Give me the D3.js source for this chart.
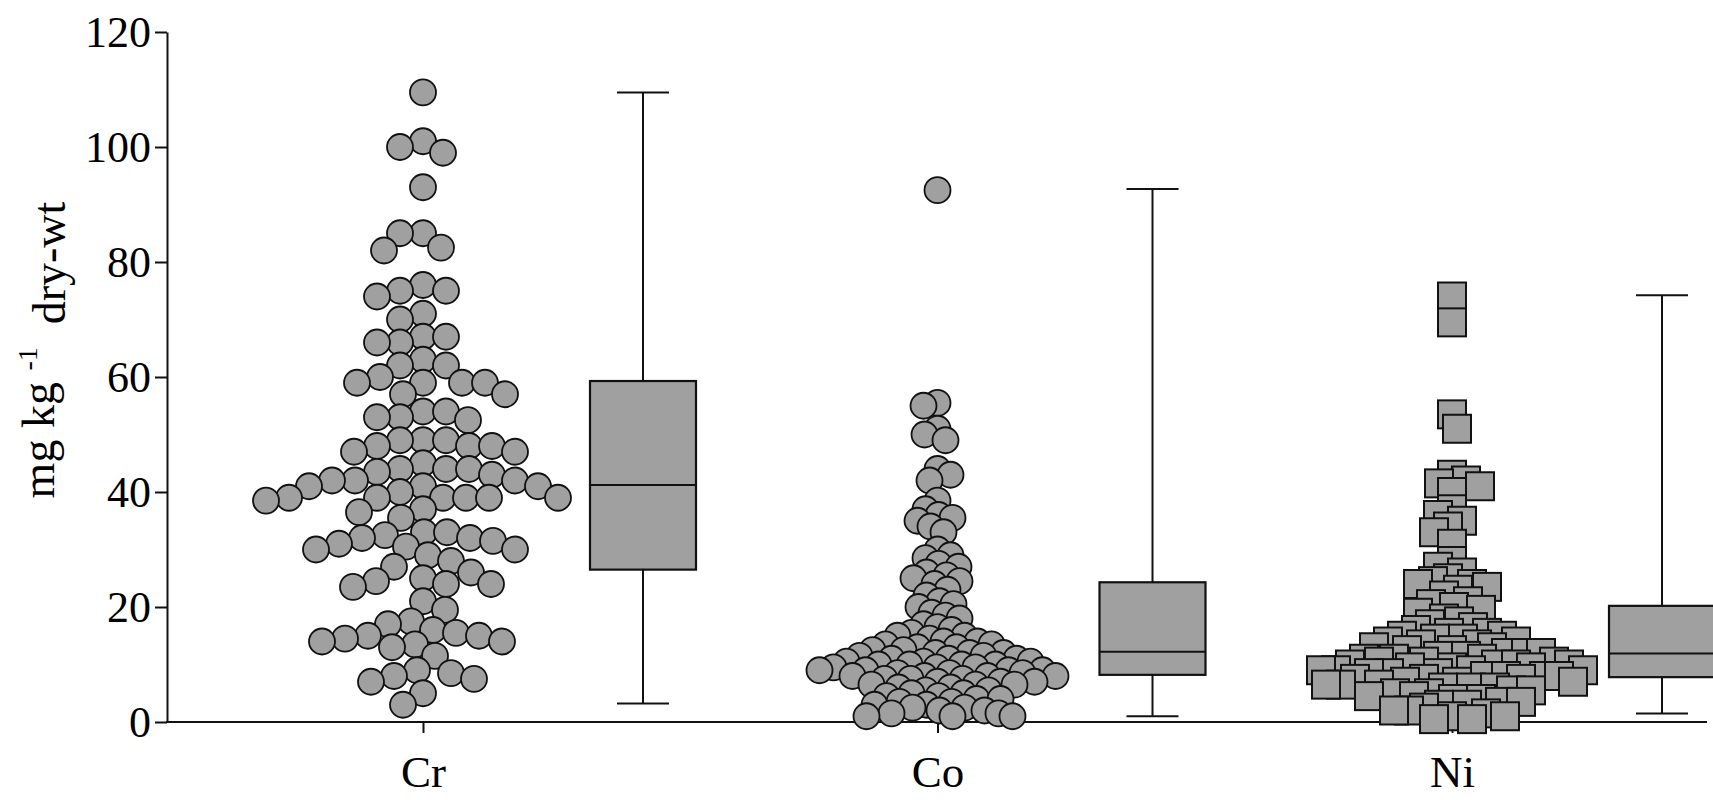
<!DOCTYPE html>
<html>
<head>
<meta charset="utf-8">
<script src="https://cdn.jsdelivr.net/npm/d3@7"></script>
<style>
  body { margin: 0; background: #fff; }
  text { font-family: "Liberation Serif", "DejaVu Serif", serif; fill: #000; }
</style>
</head>
<body>
<svg id="chart" width="1713" height="800"></svg>
<script>
'use strict';

var categories = ["Cr", "Co", "Ni"];

// individual sample values
var crValues = [109.5, 101, 100, 99, 93, 85, 85, 82.5, 82, 76, 75, 75, 74, 71, 70, 67, 67, 66, 66,
    63, 62, 62, 60, 59, 59, 59, 59, 57, 57, 54, 54, 53, 53, 52.5,
    49, 49, 49, 48, 48, 48, 47, 47, 45, 44, 44, 44,
    43.5, 43, 42, 42, 42, 41, 41, 41, 40, 39, 39, 39, 39, 39, 39, 38.5,
    37, 36.5, 35.5, 33, 33, 32.5, 32, 32, 31.5, 31, 30.5, 30, 30, 29, 28,
    27, 26, 25, 24.5, 24, 24, 23.5, 21, 19.5, 17.5, 17, 16, 15.5, 15, 15, 14.5, 14, 14, 13.5, 13, 11.5,
    9, 8.5, 8, 7.5, 7, 5, 3];

var coValues = [92.5, 55.5, 55, 51, 50, 49,
    44, 43, 42, 38.5, 37, 36, 35.5, 35, 34, 33,
    30, 29, 28.5, 27.5, 27, 26, 25.5, 25, 24.5, 24, 23, 22, 21, 20.5, 20, 19, 18.5, 18,
    17, 16.5, 16, 15.5, 15, 15, 14.5, 14, 14, 13.5, 13.5, 13, 13, 12.5, 12.5, 12, 12, 12,
    11.5, 11.5, 11, 11, 11, 10.5, 10.5, 10.5, 10, 10, 10, 10, 9.5, 9.5, 9.5, 9, 9, 9, 9,
    8.5, 8.5, 8.5, 8, 8, 8, 8, 7.5, 7.5, 7.5, 7, 7, 7, 6.5, 6.5, 6.5, 6, 6,
    5.5, 5.5, 5, 5, 4.5, 4.5, 4, 4, 3.5, 3.5, 3, 3, 2.5, 2.5, 2, 2, 1.5, 1.5, 1, 1, 1];

var niValues = [74, 69.5, 53.5, 51,
    43, 42, 41.5, 41, 40, 37, 36, 35, 34, 33, 31,
    28, 27, 26, 25, 24.5, 24, 24, 23.5, 23, 22, 21, 20.5, 20, 19.5, 19, 18, 17.5, 17, 16.5, 16,
    15.5, 15.5, 15, 15, 14.5, 14.5, 14, 14, 13.5, 13.5, 13, 13, 12.5, 12.5, 12, 12, 12,
    11.5, 11.5, 11, 11, 11, 10.5, 10.5, 10.5, 10, 10, 10, 10, 9.5, 9.5, 9.5, 9, 9, 9, 9,
    8.5, 8.5, 8.5, 8, 8, 8, 8, 7.5, 7.5, 7.5, 7, 7, 7, 6.5, 6.5, 6.5, 6, 6, 6,
    5.5, 5.5, 5, 5, 4.5, 4.5, 4, 4, 3.5, 3.5, 3, 3, 2.5, 2, 2, 1.5, 1, 1, 0.5, 0.5];

// box plot summaries (min, Q1, median, Q3, max) per category
var boxLow = [3.2, 1.0, 1.5];
var boxQ1 = [26.5, 8.2, 7.8];
var boxMedian = [41.2, 12.2, 11.9];
var boxQ3 = [59.3, 24.3, 20.2];
var boxHigh = [109.5, 92.7, 74.2];

var yTicks = [0, 20, 40, 60, 80, 100, 120];

var svg = d3.select("#chart");

var fillGrey = "#a0a0a0",
    ink = "#111";

var y = d3.scaleLinear().domain([0, 120]).range([722, 32]);

var x = d3.scalePoint().domain(categories).range([423, 1452]);
var xBox = d3.scalePoint().domain(categories).range([643, 1662]);

var axisLeftX = 167,
    axisRightX = 1707;

// simple deterministic beeswarm: nearest free spot to the column centre
function swarm(values, cx, minDist) {
    var placed = [];
    values.forEach(function (v, i) {
        var cy = y(v);
        var flip = i % 2 ? 1 : -1;
        for (var k = 0; k < 800; k++) {
            var off = flip * (k % 2 ? 1 : -1) * Math.ceil(k / 2);
            var px = cx + off;
            var ok = placed.every(function (p) {
                var dx = p.x - px, dy = p.y - cy;
                return dx * dx + dy * dy >= minDist * minDist;
            });
            if (ok) {
                placed.push({ x: px, y: cy, v: v });
                break;
            }
        }
    });
    return placed;
}

/*
  Axes
*/
var yAxis = d3.axisLeft(y)
    .tickValues(yTicks)
    .tickSize(12)
    .tickSizeOuter(0)
    .tickPadding(4);

var gy = svg.append("g")
    .attr("transform", "translate(" + axisLeftX + ",0)")
    .call(yAxis);

gy.selectAll("text")
    .style("font-family", "'Liberation Serif', serif")
    .style("font-size", "44px")
    .attr("fill", "#000");
gy.selectAll("line, path").attr("stroke", ink).attr("stroke-width", 2);

var xAxis = d3.axisBottom(x)
    .tickSize(11)
    .tickSizeOuter(0)
    .tickPadding(22);

var gx = svg.append("g")
    .attr("transform", "translate(0," + y(0) + ")")
    .call(xAxis);

gx.select(".domain").remove();
gx.selectAll("line").attr("stroke", ink).attr("stroke-width", 2);
gx.selectAll("text")
    .style("font-family", "'Liberation Serif', serif")
    .style("font-size", "45px")
    .attr("fill", "#000");

gx.append("line")
    .attr("x1", axisLeftX - 1)
    .attr("x2", axisRightX)
    .attr("y1", 0)
    .attr("y2", 0)
    .attr("stroke", ink)
    .attr("stroke-width", 2);

// y title with superscript
var yTitle = svg.append("text")
    .attr("transform", "translate(54,350) rotate(-90)")
    .attr("text-anchor", "middle")
    .style("font-size", "46px");
yTitle.append("tspan").text("mg kg ");
yTitle.append("tspan").attr("dy", "-0.6em").style("font-size", "28px").text("-1");
yTitle.append("tspan").attr("dy", "0.6em").text("\u00a0\u00a0dry-wt");

/*
  Scatter columns
*/
var crPts = swarm(crValues, x("Cr"), 23);
var coPts = swarm(coValues, x("Co"), 14);
var niPts = swarm(niValues, x("Ni"), 15);

svg.append("g").attr("class", "cr-points")
    .selectAll("circle")
    .data(crPts)
    .enter().append("circle")
    .attr("cx", function (d) { return d.x; })
    .attr("cy", function (d) { return d.y; })
    .attr("r", 13)
    .attr("fill", fillGrey)
    .attr("stroke", ink)
    .attr("stroke-width", 1.8);

svg.append("g").attr("class", "co-points")
    .selectAll("circle")
    .data(coPts)
    .enter().append("circle")
    .attr("cx", function (d) { return d.x; })
    .attr("cy", function (d) { return d.y; })
    .attr("r", 13)
    .attr("fill", fillGrey)
    .attr("stroke", ink)
    .attr("stroke-width", 1.8);

var sq = 28;
svg.append("g").attr("class", "ni-points")
    .selectAll("rect")
    .data(niPts)
    .enter().append("rect")
    .attr("x", function (d) { return d.x - sq / 2; })
    .attr("y", function (d) { return d.y - sq / 2; })
    .attr("width", sq)
    .attr("height", sq)
    .attr("fill", fillGrey)
    .attr("stroke", ink)
    .attr("stroke-width", 2);

/*
  Box plots
*/
var boxW = 106,
    capW = 52;

var boxData = categories.map(function (c, i) {
    return { cat: c, lo: boxLow[i], q1: boxQ1[i], med: boxMedian[i], q3: boxQ3[i], hi: boxHigh[i] };
});

var boxes = svg.append("g").attr("class", "boxes")
    .selectAll("g")
    .data(boxData)
    .enter().append("g")
    .attr("transform", function (d) { return "translate(" + xBox(d.cat) + ",0)"; });

boxes.append("line")
    .attr("x1", 0).attr("x2", 0)
    .attr("y1", function (d) { return y(d.hi); })
    .attr("y2", function (d) { return y(d.lo); })
    .attr("stroke", ink).attr("stroke-width", 2);

boxes.selectAll(".cap")
    .data(function (d) { return [d.lo, d.hi]; })
    .enter().append("line")
    .attr("class", "cap")
    .attr("x1", -capW / 2).attr("x2", capW / 2)
    .attr("y1", function (v) { return y(v); })
    .attr("y2", function (v) { return y(v); })
    .attr("stroke", ink).attr("stroke-width", 2);

boxes.append("rect")
    .attr("x", -boxW / 2)
    .attr("width", boxW)
    .attr("y", function (d) { return y(d.q3); })
    .attr("height", function (d) { return y(d.q1) - y(d.q3); })
    .attr("fill", fillGrey)
    .attr("stroke", ink)
    .attr("stroke-width", 2.2);

boxes.append("line")
    .attr("x1", -boxW / 2).attr("x2", boxW / 2)
    .attr("y1", function (d) { return y(d.med); })
    .attr("y2", function (d) { return y(d.med); })
    .attr("stroke", ink).attr("stroke-width", 2);
</script>
</body>
</html>
